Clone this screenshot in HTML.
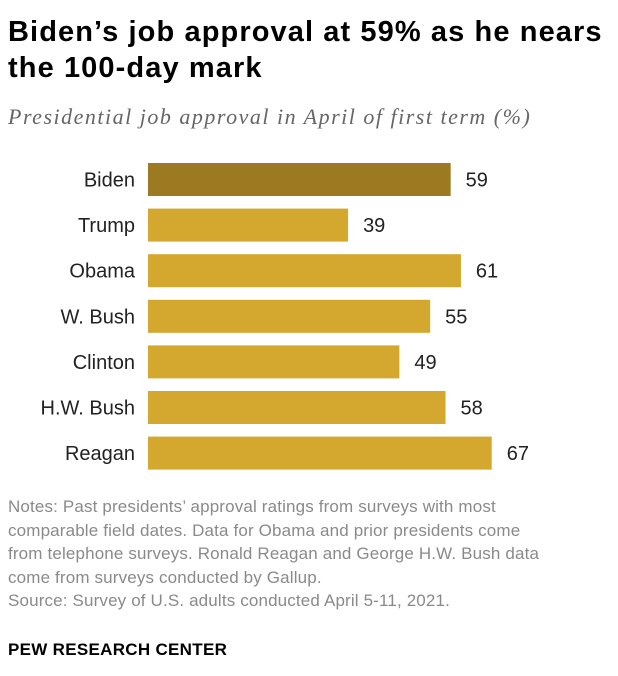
<!DOCTYPE html>
<html><head><meta charset="utf-8"><style>
body{margin:0;width:618px;height:676px;background:#fff;font-family:"Liberation Sans",sans-serif;position:relative;overflow:hidden}
.t{position:absolute;left:8px;top:14px;font-size:29px;font-weight:bold;line-height:36px;color:#000;letter-spacing:1.1px;white-space:nowrap}
.s{position:absolute;left:8px;top:104px;font-family:"Liberation Serif",serif;font-style:italic;font-size:22px;color:#666;letter-spacing:1.5px;white-space:nowrap}
.n{position:absolute;left:8px;top:495px;font-size:17px;line-height:23.5px;color:#8a8a8a;letter-spacing:0.15px;white-space:nowrap}
.p{position:absolute;left:8px;top:640px;font-size:17px;font-weight:bold;color:#000;letter-spacing:0.3px}
</style></head><body>
<div class="t">Biden’s job approval at 59% as he nears<br>the 100-day mark</div>
<div class="s">Presidential job approval in April of first term (%)</div>
<svg id="c" width="618" height="480" style="position:absolute;left:0;top:0"></svg>
<div class="n">Notes: Past presidents’ approval ratings from surveys with most<br>comparable field dates. Data for Obama and prior presidents come<br>from telephone surveys. Ronald Reagan and George H.W. Bush data<br>come from surveys conducted by Gallup.<br>Source: Survey of U.S. adults conducted April 5-11, 2021.</div>
<div class="p">PEW RESEARCH CENTER</div>
<script>
const categories=["Biden","Trump","Obama","W. Bush","Clinton","H.W. Bush","Reagan"];
const values=[59,39,61,55,49,58,67];
const svg=document.getElementById('c');
const ns="http://www.w3.org/2000/svg";
const x0=148,k=5.13,y0=163,step=45.6,h=33;
const xs=v=>v*k, ys=i=>y0+i*step;
categories.forEach((c,i)=>{
  const r=document.createElementNS(ns,'rect');
  r.setAttribute('x',x0);r.setAttribute('y',ys(i));r.setAttribute('width',xs(values[i]));r.setAttribute('height',h);
  r.setAttribute('fill',i==0?'#9c7a22':'#d4a72f');
  
  
  svg.appendChild(r);
  const l=document.createElementNS(ns,'text');
  l.setAttribute('x',135);l.setAttribute('y',ys(i)+h/2+7);l.setAttribute('text-anchor','end');
  l.setAttribute('font-size','20');l.setAttribute('fill','#222');l.textContent=c;
  
  
  svg.appendChild(l);
  const v=document.createElementNS(ns,'text');
  v.setAttribute('x',x0+xs(values[i])+15);v.setAttribute('y',ys(i)+h/2+7);
  v.setAttribute('font-size','20');v.setAttribute('fill','#222');v.textContent=values[i];
  
  
  svg.appendChild(v);
});
</script>
</body></html>
